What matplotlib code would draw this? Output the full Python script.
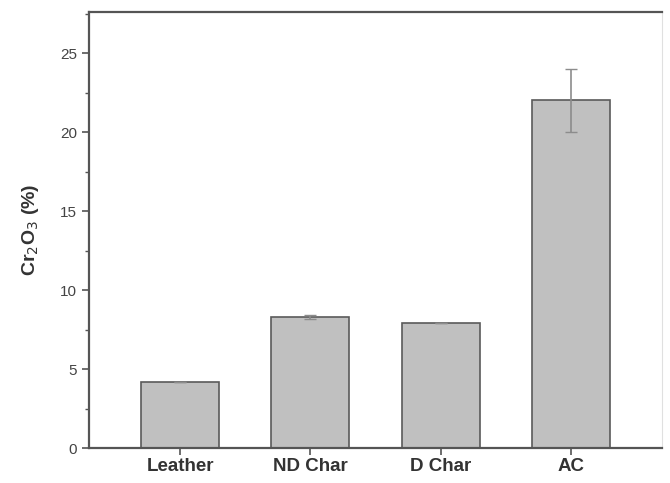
import matplotlib
matplotlib.use('Agg')
import matplotlib.pyplot as plt
from matplotlib.ticker import MultipleLocator

# Data
samples = ['Leather', 'ND Char', 'D Char', 'AC']
cr2o3 = [4.2, 8.3, 7.9, 22.0]
err = [0.0, 0.15, 0.0, 2.0]

plt.rcParams['font.family'] = ['Liberation Sans', 'DejaVu Sans']

fig = plt.figure(figsize=(6.7, 4.83), dpi=100)
ax = fig.add_axes([89 / 670, 35 / 483, 573 / 670, 436 / 483])

x = range(len(samples))
ax.bar(x, cr2o3, width=0.6, color='#c0c0c0', edgecolor='#5a5a5a', linewidth=1.2,
       yerr=err, error_kw=dict(ecolor='#8c8c8c', elinewidth=1.2, capsize=4, capthick=1.0))

ax.set_xlim(-0.7, 3.7)
ax.set_ylim(0, 27.6)
ax.set_xticks(list(x))
ax.set_xticklabels(samples, fontsize=13.5, fontweight='bold', color='#333333')
ax.yaxis.set_major_locator(MultipleLocator(5))
ax.yaxis.set_minor_locator(MultipleLocator(2.5))
ax.tick_params(axis='both', which='both', direction='out', color='#555555')
ax.tick_params(axis='both', which='major', length=5, width=1.2)
ax.tick_params(axis='x', which='major', pad=2)
ax.tick_params(axis='y', which='minor', length=3, width=1.0)
ax.tick_params(axis='y', labelsize=11, labelcolor='#444444')

ax.set_ylabel('Cr$_2$O$_3$ (%)', fontsize=14, fontweight='bold', color='#333333', labelpad=14)

for side in ['left', 'bottom', 'top']:
    ax.spines[side].set_color('#555555')
    ax.spines[side].set_linewidth(1.6)
ax.spines['right'].set_color('#e0e0e0')
ax.spines['right'].set_linewidth(0.8)

fig.savefig('out.png', dpi=100)
